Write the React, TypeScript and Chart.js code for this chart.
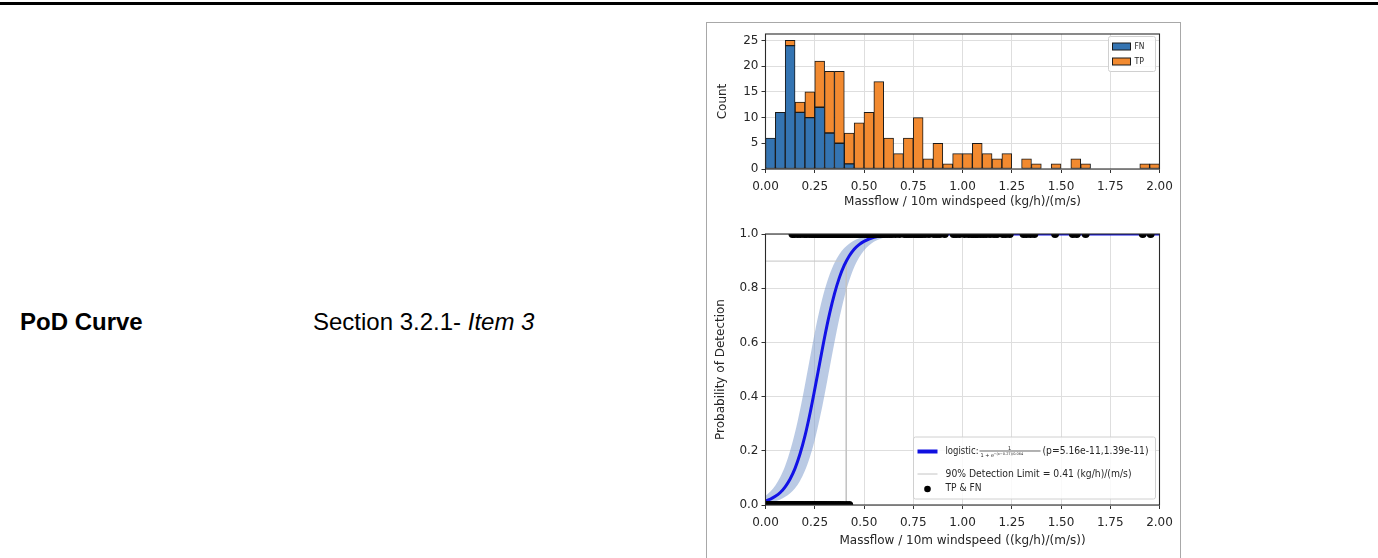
import React, { useEffect, useRef } from 'react';
import { Chart, registerables } from 'chart.js';
Chart.register(...registerables);

// ---------- DATA ----------
const BIN_CENTERS = [0.025, 0.075, 0.125, 0.175, 0.225, 0.275, 0.325, 0.375, 0.425, 0.475, 0.525, 0.575, 0.625, 0.675, 0.725, 0.775, 0.825, 0.875, 0.925, 0.975, 1.025, 1.075, 1.125, 1.175, 1.225, 1.275, 1.325, 1.375, 1.425, 1.475, 1.525, 1.575, 1.625, 1.675, 1.725, 1.775, 1.825, 1.875, 1.925, 1.975];
const FN_COUNTS = [6, 11, 24, 11, 10, 12, 7, 5, 1, 0, 0, 0, 0, 0, 0, 0, 0, 0, 0, 0, 0, 0, 0, 0, 0, 0, 0, 0, 0, 0, 0, 0, 0, 0, 0, 0, 0, 0, 0, 0];
const TP_COUNTS = [0, 0, 1, 2, 5, 9, 12, 14, 6, 9, 11, 17, 6, 3, 6, 10, 2, 5, 1, 3, 3, 5, 3, 2, 3, 0, 2, 1, 0, 1, 0, 2, 1, 0, 0, 0, 0, 0, 1, 1];

const X_TICKS = [0, 0.25, 0.5, 0.75, 1.0, 1.25, 1.5, 1.75, 2.0];

const CURVE_X = [0, 0.025, 0.05, 0.075, 0.1, 0.125, 0.15, 0.175, 0.2, 0.225, 0.25, 0.275, 0.3, 0.325, 0.35, 0.375, 0.4, 0.425, 0.45, 0.475, 0.5, 0.55, 0.6, 0.65, 0.7, 0.8, 0.9, 1.0, 1.25, 1.5, 1.75, 2.0];
const CURVE_P = [0.015, 0.022, 0.032, 0.046, 0.067, 0.096, 0.135, 0.188, 0.254, 0.335, 0.427, 0.523, 0.619, 0.705, 0.779, 0.839, 0.885, 0.919, 0.944, 0.961, 0.973, 0.988, 0.994, 0.997, 0.999, 1, 1, 1, 1, 1, 1, 1];
const BAND_UPPER = [0.034, 0.050, 0.072, 0.103, 0.145, 0.200, 0.268, 0.350, 0.442, 0.540, 0.636, 0.721, 0.793, 0.850, 0.893, 0.925, 0.948, 0.964, 0.976, 0.984, 0.989, 0.995, 0.998, 0.999, 1, 1, 1, 1, 1, 1, 1, 1];
const BAND_LOWER = [0.0065, 0.0095, 0.014, 0.020, 0.030, 0.043, 0.062, 0.089, 0.126, 0.176, 0.240, 0.318, 0.407, 0.504, 0.600, 0.689, 0.766, 0.828, 0.877, 0.913, 0.939, 0.971, 0.986, 0.994, 0.997, 0.9994, 1, 1, 1, 1, 1, 1];

const DETECTION_LIMIT = 0.41;
const DETECTION_LEVEL = 0.9;

const FN_X = [0.004, 0.012, 0.02, 0.028, 0.036, 0.045, 0.053, 0.058, 0.064, 0.07, 0.077, 0.083, 0.09, 0.097, 0.103, 0.108, 0.112, 0.117, 0.121, 0.126, 0.13, 0.134, 0.139, 0.143, 0.148, 0.153, 0.159, 0.166, 0.172, 0.179, 0.186, 0.193, 0.204, 0.212, 0.221, 0.229, 0.238, 0.247, 0.253, 0.259, 0.266, 0.272, 0.279, 0.286, 0.294, 0.302, 0.311, 0.322, 0.333, 0.344, 0.357, 0.369, 0.381, 0.394, 0.41, 0.425];
const TP_X = [0.137, 0.146, 0.163, 0.178, 0.196, 0.208, 0.224, 0.236, 0.245, 0.256, 0.263, 0.271, 0.278, 0.284, 0.291, 0.298, 0.305, 0.312, 0.318, 0.325, 0.331, 0.338, 0.344, 0.351, 0.357, 0.364, 0.37, 0.376, 0.383, 0.389, 0.396, 0.404, 0.412, 0.421, 0.43, 0.44, 0.452, 0.461, 0.47, 0.48, 0.49, 0.503, 0.512, 0.521, 0.53, 0.54, 0.548, 0.553, 0.558, 0.564, 0.57, 0.576, 0.582, 0.588, 0.595, 0.605, 0.617, 0.63, 0.642, 0.66, 0.68, 0.705, 0.716, 0.728, 0.74, 0.755, 0.765, 0.775, 0.785, 0.795, 0.81, 0.83, 0.855, 0.87, 0.885, 0.91, 0.955, 0.968, 0.985, 1.01, 1.03, 1.045, 1.055, 1.065, 1.075, 1.09, 1.105, 1.12, 1.14, 1.16, 1.175, 1.205, 1.22, 1.24, 1.31, 1.325, 1.345, 1.365, 1.47, 1.56, 1.58, 1.625, 1.915, 1.955];

// ---------- STYLE ----------
const FN_COLOR = '#3474b2';
const TP_COLOR = '#f28a30';
const TEXT = '#262626';
const GRID = '#dedede';
const FONT = '"DejaVu Sans", sans-serif';

function drawFit(ctx: CanvasRenderingContext2D, text: string, x: number, y: number, w: number, font: string, color = TEXT) {
  ctx.save();
  ctx.font = font;
  ctx.fillStyle = color;
  ctx.textBaseline = 'middle';
  ctx.textAlign = 'left';
  const m = ctx.measureText(text).width;
  ctx.translate(x, y);
  ctx.scale(w / m, 1);
  ctx.fillText(text, 0, 0);
  ctx.restore();
}

const spines = {
  id: 'spines',
  afterDatasetsDraw(chart: any) {
    const { ctx, chartArea: a } = chart;
    ctx.save();
    ctx.strokeStyle = '#2a2a2a';
    ctx.lineWidth = 1.1;
    ctx.strokeRect(a.left, a.top, a.right - a.left, a.bottom - a.top);
    ctx.restore();
  },
};

const histLegend = {
  id: 'histLegend',
  afterDraw(chart: any) {
    const { ctx, chartArea: a } = chart;
    ctx.save();
    ctx.fillStyle = 'rgba(255,255,255,0.85)';
    ctx.strokeStyle = '#d0d0d0';
    ctx.lineWidth = 1;
    ctx.beginPath();
    ctx.roundRect(a.right - 51, a.top + 2.5, 47, 35, 2);
    ctx.fill();
    ctx.stroke();
    const items = [
      { label: 'FN', color: FN_COLOR, y: a.top + 9 },
      { label: 'TP', color: TP_COLOR, y: a.top + 24 },
    ];
    for (const it of items) {
      ctx.fillStyle = it.color;
      ctx.strokeStyle = '#1a1a1a';
      ctx.fillRect(a.right - 47, it.y, 18, 7);
      ctx.strokeRect(a.right - 47, it.y, 18, 7);
      drawFit(ctx, it.label, a.right - 25, it.y + 3.5, it.label === 'FN' ? 10 : 9.5, `9.5px ${FONT}`);
    }
    ctx.restore();
  },
};

const podLegend = {
  id: 'podLegend',
  afterDraw(chart: any) {
    const { ctx, chartArea: a } = chart;
    const bx = a.right - 246;
    const by = a.bottom - 68;
    ctx.save();
    ctx.fillStyle = 'rgba(255,255,255,0.85)';
    ctx.strokeStyle = '#d0d0d0';
    ctx.lineWidth = 1;
    ctx.beginPath();
    ctx.roundRect(bx, by, 242, 62, 2);
    ctx.fill();
    ctx.stroke();
    const lx0 = a.right - 242;
    const lx1 = a.right - 222;
    const tx = a.right - 214;
    // row 1
    const r1 = a.bottom - 53.5;
    ctx.strokeStyle = '#1010e0';
    ctx.lineWidth = 4;
    ctx.beginPath();
    ctx.moveTo(lx0, r1);
    ctx.lineTo(lx1, r1);
    ctx.stroke();
    drawFit(ctx, 'logistic:', tx, r1, 33, `10px ${FONT}`);
    // fraction
    const fx = tx + 34;
    ctx.strokeStyle = TEXT;
    ctx.lineWidth = 0.7;
    ctx.beginPath();
    ctx.moveTo(fx, r1 - 0.5);
    ctx.lineTo(fx + 61, r1 - 0.5);
    ctx.stroke();
    ctx.fillStyle = TEXT;
    ctx.font = `5px ${FONT}`;
    ctx.textBaseline = 'alphabetic';
    ctx.textAlign = 'center';
    ctx.fillText('1', fx + 30, r1 - 2);
    ctx.textAlign = 'left';
    ctx.fillText('1 + e', fx + 1, r1 + 5.5);
    ctx.font = `3.5px ${FONT}`;
    ctx.fillText('−(x−0.27)/0.064', fx + 14, r1 + 3);
    drawFit(ctx, '(p=5.16e-11,1.39e-11)', tx + 97, r1, 106, `10px ${FONT}`);
    // row 2
    const r2 = a.bottom - 31;
    ctx.strokeStyle = '#c4c4c4';
    ctx.lineWidth = 1;
    ctx.beginPath();
    ctx.moveTo(lx0, r2);
    ctx.lineTo(lx1, r2);
    ctx.stroke();
    drawFit(ctx, '90% Detection Limit = 0.41 (kg/h)/(m/s)', tx, r2, 186, `10px ${FONT}`);
    // row 3
    const r3 = a.bottom - 17;
    ctx.fillStyle = '#000';
    ctx.beginPath();
    ctx.arc((lx0 + lx1) / 2, r3 + 1, 3.3, 0, Math.PI * 2);
    ctx.fill();
    drawFit(ctx, 'TP & FN', tx, r3, 36, `10px ${FONT}`);
    ctx.restore();
  },
};

function xScale(titleText: string, height: number, titlePadBottom: number, tickPad: number) {
  return {
    type: 'linear',
    min: 0,
    max: 2,
    offset: false,
    afterBuildTicks: (s: any) => {
      s.ticks = X_TICKS.map((v) => ({ value: v }));
    },
    ticks: {
      autoSkip: false,
      maxRotation: 0,
      color: TEXT,
      font: { family: FONT, size: 12 },
      padding: tickPad,
      callback: (v: any) => Number(v).toFixed(2),
    },
    grid: { color: GRID, lineWidth: 1, tickColor: '#333', tickLength: 4, drawTicks: true, offset: false },
    border: { display: false },
    title: {
      display: true,
      text: titleText,
      color: TEXT,
      font: { family: FONT, size: 12 },
      padding: { top: 0, bottom: titlePadBottom },
    },
    afterFit: (s: any) => {
      s.height = height;
      s.paddingLeft = 0;
      s.paddingRight = 0;
    },
  };
}

function yTitle(text: string, padTop: number) {
  return {
    display: true,
    text,
    color: TEXT,
    font: { family: FONT, size: 12 },
    padding: { top: padTop, bottom: 0 },
  };
}

function yFit(s: any) {
  s.width = 58.5;
  s.paddingTop = 0;
  s.paddingBottom = 0;
}

function useChart(config: any) {
  const ref = useRef<HTMLCanvasElement>(null);
  useEffect(() => {
    const chart = new Chart(ref.current as HTMLCanvasElement, config);
    return () => chart.destroy();
  }, []);
  return ref;
}

function HistChart() {
  const ref = useChart({
    type: 'bar',
    data: {
      datasets: [
        {
          label: 'FN',
          data: BIN_CENTERS.map((x, i) => ({ x, y: FN_COUNTS[i] })),
          backgroundColor: FN_COLOR,
          borderColor: '#1a1a1a',
          borderWidth: 1,
          borderSkipped: false,
          barPercentage: 1,
          categoryPercentage: 1,
        },
        {
          label: 'TP',
          data: BIN_CENTERS.map((x, i) => ({ x, y: TP_COUNTS[i] })),
          backgroundColor: TP_COLOR,
          borderColor: '#1a1a1a',
          borderWidth: 1,
          borderSkipped: false,
          barPercentage: 1,
          categoryPercentage: 1,
        },
      ],
    },
    options: {
      animation: false,
      responsive: false,
      maintainAspectRatio: false,
      events: [],
      layout: { padding: { top: 10, right: 17.5, left: 0, bottom: 0 } },
      plugins: { legend: { display: false }, tooltip: { enabled: false } },
      scales: {
        x: { ...xScale('Massflow / 10m windspeed (kg/h)/(m/s)', 47, 7, 7), stacked: true },
        y: {
          type: 'linear',
          stacked: true,
          min: 0,
          max: 26.25,
          ticks: {
            stepSize: 5,
            includeBounds: false,
            color: TEXT,
            font: { family: FONT, size: 12 },
            padding: 3,
          },
          grid: { color: GRID, lineWidth: 1, tickColor: '#333', tickLength: 4 },
          border: { display: false },
          title: yTitle('Count', 9),
          afterFit: yFit,
        },
      },
    },
    plugins: [spines, histLegend],
  });
  return (
    <canvas
      ref={ref}
      width={470}
      height={192}
      style={{ position: 'absolute', left: 707, top: 24, width: 470, height: 192 }}
    />
  );
}

function PodChart() {
  const ref = useChart({
    type: 'scatter',
    data: {
      datasets: [
        {
          label: 'TP',
          data: TP_X.map((x) => ({ x, y: 1 })),
          pointRadius: 4,
          pointBackgroundColor: '#000',
          pointBorderWidth: 0,
          showLine: false,
          clip: 0,
        },
        {
          label: 'FN',
          data: FN_X.map((x) => ({ x, y: 0 })),
          pointRadius: 4,
          pointBackgroundColor: '#000',
          pointBorderWidth: 0,
          showLine: false,
          clip: 0,
        },
        {
          type: 'line',
          label: 'logistic',
          data: CURVE_X.map((x, i) => ({ x, y: CURVE_P[i] })),
          borderColor: '#1212e6',
          borderWidth: 3,
          pointRadius: 0,
          cubicInterpolationMode: 'monotone',
          fill: false,
          clip: 0,
        },
        {
          type: 'line',
          label: 'limit',
          data: [
            { x: 0, y: DETECTION_LEVEL },
            { x: DETECTION_LIMIT, y: DETECTION_LEVEL },
            { x: DETECTION_LIMIT, y: 0 },
          ],
          borderColor: '#c4c4c4',
          borderWidth: 1,
          pointRadius: 0,
          fill: false,
          clip: 0,
        },
        {
          type: 'line',
          label: 'upper',
          data: CURVE_X.map((x, i) => ({ x, y: BAND_UPPER[i] })),
          borderWidth: 0,
          borderColor: 'rgba(0,0,0,0)',
          backgroundColor: 'rgba(130,158,206,0.55)',
          pointRadius: 0,
          cubicInterpolationMode: 'monotone',
          fill: '+1',
          clip: 0,
        },
        {
          type: 'line',
          label: 'lower',
          data: CURVE_X.map((x, i) => ({ x, y: BAND_LOWER[i] })),
          borderWidth: 0,
          borderColor: 'rgba(0,0,0,0)',
          pointRadius: 0,
          cubicInterpolationMode: 'monotone',
          fill: false,
          clip: 0,
        },
      ],
    },
    options: {
      animation: false,
      responsive: false,
      maintainAspectRatio: false,
      events: [],
      layout: { padding: { top: 14, right: 17.5, left: 0, bottom: 0 } },
      plugins: { legend: { display: false }, tooltip: { enabled: false } },
      scales: {
        x: xScale('Massflow / 10m windspeed ((kg/h)/(m/s))', 53, 10, 7),
        y: {
          type: 'linear',
          min: 0,
          max: 1,
          ticks: {
            stepSize: 0.2,
            color: TEXT,
            font: { family: FONT, size: 12 },
            padding: 3,
            callback: (v: any) => Number(v).toFixed(1),
          },
          grid: { color: GRID, lineWidth: 1, tickColor: '#333', tickLength: 4 },
          border: { display: false },
          title: yTitle('Probability of Detection', 7),
          afterFit: yFit,
        },
      },
    },
    plugins: [spines, podLegend],
  });
  return (
    <canvas
      ref={ref}
      width={470}
      height={338}
      style={{ position: 'absolute', left: 707, top: 220, width: 470, height: 338 }}
    />
  );
}

export default function App() {
  return (
    <div
      style={{
        position: 'absolute',
        left: 0,
        top: 0,
        width: 1378,
        height: 558,
        background: '#fff',
        overflow: 'hidden',
        fontFamily: '"Liberation Sans", Arial, sans-serif',
        color: '#000',
      }}
    >
      <div style={{ position: 'absolute', left: 0, top: 2, width: 1378, height: 3, background: '#000' }} />
      <div style={{ position: 'absolute', left: 20, top: 308, fontSize: 24, fontWeight: 'bold', lineHeight: '28px', whiteSpace: 'nowrap' }}>
        PoD Curve
      </div>
      <div style={{ position: 'absolute', left: 313, top: 308, fontSize: 24, lineHeight: '28px', whiteSpace: 'nowrap' }}>
        Section 3.2.1- <i>Item 3</i>
      </div>
      <div
        style={{
          position: 'absolute',
          left: 706,
          top: 22,
          width: 475,
          height: 560,
          border: '1.5px solid #a8a8a8',
          boxSizing: 'border-box',
        }}
      />
      <HistChart />
      <PodChart />
    </div>
  );
}
